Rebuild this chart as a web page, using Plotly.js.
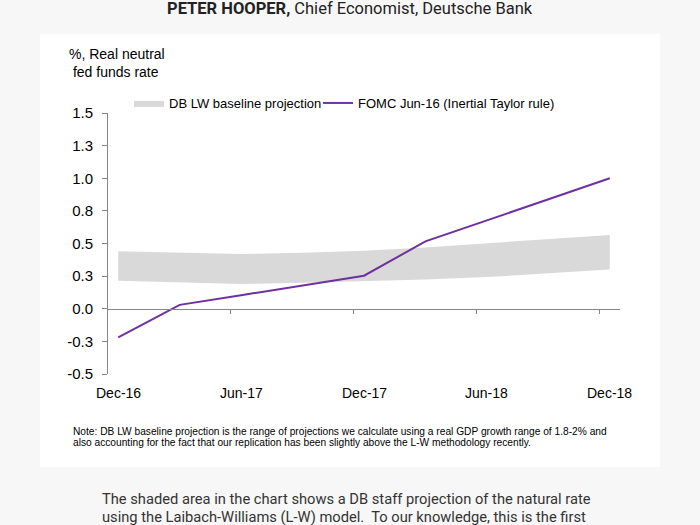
<!DOCTYPE html>
<html>
<head>
<meta charset="utf-8">
<script src="https://cdn.plot.ly/plotly-3.0.1.min.js"></script>
<style>
html,body{margin:0;padding:0;background:#f7f7f7;}
#wrap{position:relative;width:700px;height:525px;overflow:hidden;}
#card{position:absolute;left:40px;top:34px;width:620px;height:433px;background:#ffffff;}
#chart{position:absolute;left:0;top:0;width:700px;height:525px;}
</style>
</head>
<body>
<div id="wrap"><div id="card"></div><div id="chart"></div></div>
<script>
// months since Dec-16, quarterly
var months = [0, 3, 6, 9, 12, 15, 18, 21, 24];
var bandUpper = [0.44, 0.43, 0.42, 0.43, 0.445, 0.47, 0.50, 0.53, 0.565];
var bandLower = [0.215, 0.20, 0.19, 0.20, 0.21, 0.225, 0.243, 0.27, 0.30];
var fomcTaylor = [-0.22, 0.03, 0.104, 0.179, 0.253, 0.516, 0.677, 0.838, 1.0];

var xTickVals = [0, 6, 12, 18, 24];
var xTickText = ['Dec-16', 'Jun-17', 'Dec-17', 'Jun-18', 'Dec-18'];
var xMarkVals = [5.5, 11.5, 17.5, 23.5];
var yTickVals = [-0.5, -0.25, 0, 0.25, 0.5, 0.75, 1, 1.25, 1.5];
var yTickText = ['-0.5', '-0.3', '0.0', '0.3', '0.5', '0.8', '1.0', '1.3', '1.5'];

var seriesBand = 'DB LW baseline projection';
var seriesLine = 'FOMC Jun-16 (Inertial Taylor rule)';

// pixel geometry of plot area
var L = 108, R = 620, T = 113, B = 374;
function px(x) { return (x - L) / (R - L); }
function py(y) { return (B - y) / (B - T); }

var chartFont = 'Liberation Sans, Arial, Helvetica, sans-serif';
var axisGrey = '#868686';

var traces = [
  {x: months, y: bandLower, type: 'scatter', mode: 'lines', line: {width: 0, color: '#d9d9d9'},
   showlegend: false, hoverinfo: 'skip'},
  {x: months, y: bandUpper, type: 'scatter', mode: 'lines', fill: 'tonexty', fillcolor: '#d9d9d9',
   line: {width: 0, color: '#d9d9d9'}, name: seriesBand, legend: 'legend'},
  {x: months, y: fomcTaylor, type: 'scatter', mode: 'lines', line: {width: 2, color: '#7030a0'},
   name: seriesLine, legend: 'legend2'}
];

var annotations = [
  {xref: 'paper', yref: 'paper', x: px(350), y: py(9), xanchor: 'center', yanchor: 'middle',
   showarrow: false, text: '<b>PETER HOOPER,</b> Chief Economist, Deutsche Bank',
   font: {family: 'Roboto, sans-serif', size: 16.5, color: '#222'}},
  {xref: 'paper', yref: 'paper', x: px(67), y: py(44), xanchor: 'left', yanchor: 'top', align: 'left',
   showarrow: false, text: '%, Real neutral<br>&nbsp;fed funds rate',
   font: {family: chartFont, size: 14, color: '#000'}},
  {xref: 'paper', yref: 'paper', x: px(71), y: py(431), xanchor: 'left', yanchor: 'middle',
   showarrow: false,
   text: 'Note: DB LW baseline projection is the range of projections we calculate using a real GDP growth range of 1.8-2% and',
   font: {family: chartFont, size: 10.2, color: '#000'}},
  {xref: 'paper', yref: 'paper', x: px(71), y: py(442), xanchor: 'left', yanchor: 'middle',
   showarrow: false,
   text: 'also accounting for the fact that our replication has been slightly above the L-W methodology recently.',
   font: {family: chartFont, size: 10.2, color: '#000'}},
  {xref: 'paper', yref: 'paper', x: px(100), y: py(499), xanchor: 'left', yanchor: 'middle',
   showarrow: false,
   text: 'The shaded area in the chart shows a DB staff projection of the natural rate',
   font: {family: 'Roboto, sans-serif', size: 14.7, color: '#333'}},
  {xref: 'paper', yref: 'paper', x: px(100), y: py(517), xanchor: 'left', yanchor: 'middle',
   showarrow: false,
   text: 'using the Laibach-Williams (L-W) model.&nbsp; To our knowledge, this is the first',
   font: {family: 'Roboto, sans-serif', size: 14.7, color: '#333'}}
];
// category labels along the bottom, placed through the x scale
for (var i = 0; i < xTickVals.length; i++) {
  annotations.push({xref: 'x', yref: 'paper', x: xTickVals[i], y: py(393),
    xanchor: 'center', yanchor: 'middle', showarrow: false, text: xTickText[i],
    font: {family: chartFont, size: 14, color: '#000'}});
}

var layout = {
  width: 700, height: 525,
  margin: {l: L, r: 700 - R, t: T, b: 525 - B},
  paper_bgcolor: 'rgba(0,0,0,0)',
  plot_bgcolor: 'rgba(0,0,0,0)',
  font: {family: chartFont, color: '#000'},
  xaxis: {
    range: [-0.5, 24.5], anchor: 'free', position: 0.25,
    tickvals: xMarkVals, showticklabels: false,
    ticks: 'outside', ticklen: 4, tickcolor: axisGrey, tickwidth: 1,
    showline: true, linecolor: axisGrey, linewidth: 1,
    showgrid: false, zeroline: false
  },
  yaxis: {
    range: [-0.5, 1.5], tickvals: yTickVals, ticktext: yTickText,
    ticks: 'outside', ticklen: 5, tickcolor: axisGrey, tickwidth: 1,
    showline: true, linecolor: axisGrey, linewidth: 1,
    showgrid: false, zeroline: false, ticklabelstandoff: 6,
    tickfont: {size: 15, family: chartFont, color: '#000'}
  },
  legend: {
    x: px(129), y: py(103), xanchor: 'left', yanchor: 'middle',
    orientation: 'h', bgcolor: 'rgba(0,0,0,0)', itemwidth: 30,
    font: {size: 13, family: chartFont, color: '#000'}
  },
  legend2: {
    x: px(318), y: py(103), xanchor: 'left', yanchor: 'middle',
    orientation: 'h', bgcolor: 'rgba(0,0,0,0)', itemwidth: 30,
    font: {size: 13, family: chartFont, color: '#000'}
  },
  annotations: annotations
};

Plotly.newPlot('chart', traces, layout, {displayModeBar: false, staticPlot: true});
</script>
</body>
</html>
